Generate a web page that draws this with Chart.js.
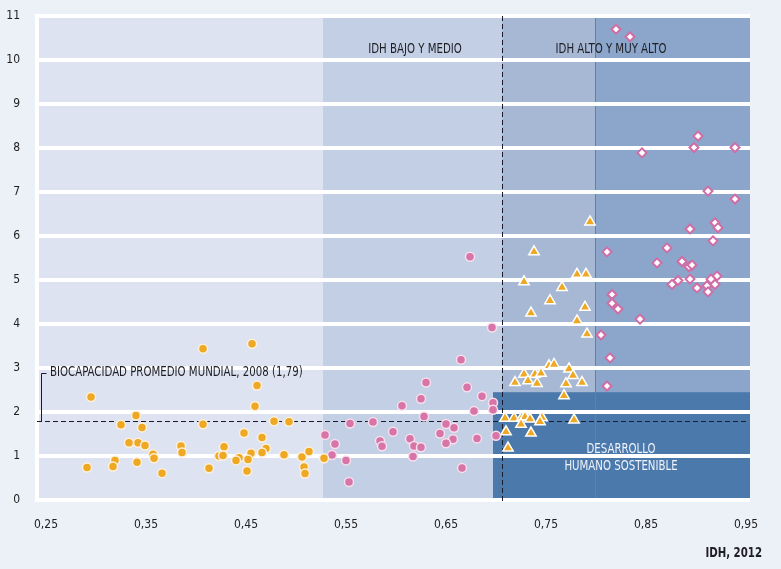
<!DOCTYPE html>
<html>
<head>
<meta charset="utf-8">
<script src="https://cdn.jsdelivr.net/npm/chart.js@4/dist/chart.umd.min.js"></script>
<style>
  html, body { margin: 0; padding: 0; background: #ecf0f7; }
  #wrap { width: 781px; height: 569px; }
</style>
</head>
<body>
<div id="wrap"><canvas id="grafico"></canvas></div>
<script>
// datos: IDH (x) y huella ecologica (y)
const bajoIdh = [0.407,0.456,0.295,0.461,0.459,0.340,0.325,0.346,0.407,0.478,0.493,0.448,0.466,0.333,0.342,0.349,0.385,0.386,0.428,0.470,0.466,0.455,0.357,0.358,0.423,0.427,0.443,0.440,0.452,0.319,0.317,0.291,0.341,0.366,0.413,0.451,0.488,0.506,0.513,0.508,0.509,0.528];
const bajoHuella = [3.44,3.55,2.34,2.60,2.13,1.92,1.71,1.65,1.72,1.79,1.78,1.52,1.42,1.30,1.30,1.24,1.23,1.08,1.21,1.17,1.08,1.06,1.04,0.95,1.00,1.01,0.96,0.90,0.92,0.90,0.76,0.74,0.86,0.61,0.72,0.66,1.03,0.98,1.10,0.75,0.60,0.95];

const medioIdh = [0.696,0.674,0.665,0.630,0.671,0.686,0.697,0.697,0.625,0.606,0.678,0.628,0.554,0.577,0.650,0.658,0.644,0.597,0.529,0.657,0.681,0.700,0.614,0.584,0.586,0.650,0.618,0.625,0.539,0.536,0.550,0.617,0.666,0.553];
const medioHuella = [3.92,5.53,3.19,2.67,2.56,2.36,2.21,2.05,2.30,2.14,2.02,1.90,1.74,1.77,1.73,1.64,1.51,1.55,1.48,1.38,1.40,1.46,1.39,1.34,1.22,1.29,1.23,1.20,1.27,1.02,0.90,0.99,0.73,0.41];

const altoIdh = [0.794,0.738,0.728,0.781,0.790,0.766,0.754,0.789,0.735,0.781,0.791,0.753,0.758,0.773,0.777,0.728,0.739,0.745,0.719,0.732,0.741,0.770,0.786,0.768,0.709,0.718,0.726,0.729,0.734,0.746,0.744,0.778,0.725,0.710,0.735,0.712];
const altoHuella = [6.32,5.64,4.96,5.13,5.13,4.83,4.53,4.38,4.25,4.07,3.77,3.05,3.08,2.98,2.83,2.86,2.86,2.88,2.67,2.71,2.65,2.64,2.67,2.37,1.86,1.86,1.88,1.89,1.84,1.87,1.78,1.82,1.72,1.55,1.52,1.18];

const muyAltoIdh = [0.820,0.834,0.902,0.898,0.939,0.846,0.912,0.939,0.919,0.922,0.894,0.917,0.811,0.871,0.861,0.886,0.893,0.896,0.921,0.915,0.894,0.882,0.876,0.901,0.911,0.919,0.912,0.816,0.816,0.822,0.844,0.805,0.814,0.811];
const muyAltoHuella = [10.70,10.53,8.27,8.01,8.01,7.89,7.02,6.84,6.30,6.19,6.16,5.89,5.64,5.73,5.39,5.42,5.30,5.34,5.09,5.02,5.02,4.99,4.90,4.82,4.87,4.90,4.73,4.67,4.47,4.34,4.11,3.75,3.23,2.59];

const xTicks = [0.25, 0.35, 0.45, 0.55, 0.65, 0.75, 0.85, 0.95];
const limitesIdh = [0.527, 0.706, 0.799];   // bajo/medio, medio/alto, alto/muy alto
const biocapacidad = 1.79;
const limiteSostenible = { idh: 0.697, huella: 2.45 };

const fuente = '"Liberation Sans Narrow", "DejaVu Sans Condensed", "Roboto", sans-serif';

const puntos = (xs, ys) => xs.map((v, i) => ({ x: v, y: ys[i] }));

// texto algo estrecho, como la tipografia condensada del original
function texto(ctx, s, px, py, align) {
    const k = 0.81;
    ctx.save();
    ctx.translate(px, py);
    ctx.scale(k, 1);
    ctx.textAlign = align;
    ctx.fillText(s, 0, 0);
    ctx.restore();
}

// fondos, lineas y textos
const fondoPlugin = {
    id: 'fondo',
    beforeDraw(chart) {
        const { ctx, chartArea: a, scales: { x, y } } = chart;
        const x1 = x.getPixelForValue(limitesIdh[0]);
        const x2 = x.getPixelForValue(limitesIdh[1]);
        const x3 = x.getPixelForValue(limitesIdh[2]);
        ctx.save();
        ctx.fillStyle = '#dde3f0';
        ctx.fillRect(a.left, a.top, x1 - a.left, a.bottom - a.top);
        ctx.fillStyle = '#c2cfe4';
        ctx.fillRect(x1, a.top, x2 - x1, a.bottom - a.top);
        ctx.fillStyle = '#a7b8d5';
        ctx.fillRect(x2, a.top, x3 - x2, a.bottom - a.top);
        ctx.fillStyle = '#8ba6ca';
        ctx.fillRect(x3, a.top, a.right - x3, a.bottom - a.top);
        // zona de desarrollo humano sostenible
        const rx = x.getPixelForValue(limiteSostenible.idh);
        const ry = y.getPixelForValue(limiteSostenible.huella);
        ctx.fillStyle = '#4b79ac';
        ctx.fillRect(rx, ry, a.right - rx, a.bottom - ry);
        // linea fina en 0,8
        ctx.strokeStyle = '#5f80ad';
        ctx.lineWidth = 1;
        ctx.beginPath();
        ctx.moveTo(Math.round(x3) + 0.5, a.top);
        ctx.lineTo(Math.round(x3) + 0.5, a.bottom);
        ctx.stroke();
        ctx.restore();
    },
    beforeDatasetsDraw(chart) {
        const { ctx, chartArea: a, scales: { x, y } } = chart;
        ctx.save();
        ctx.strokeStyle = '#1a1a2a';
        ctx.lineWidth = 1;
        ctx.setLineDash([5, 3]);
        const vx = Math.round(x.getPixelForValue(limitesIdh[1])) + 0.5;
        ctx.beginPath();
        ctx.moveTo(vx, a.top);
        ctx.lineTo(vx, a.bottom + 4);
        ctx.stroke();
        const hy = Math.round(y.getPixelForValue(biocapacidad)) + 0.5;
        ctx.beginPath();
        ctx.moveTo(a.left, hy);
        ctx.lineTo(a.right - 4, hy);
        ctx.stroke();
        // corchete de la etiqueta
        ctx.setLineDash([]);
        const bx = Math.round(x.getPixelForValue(0.245)) + 0.5;
        const by = Math.round(y.getPixelForValue(2.89)) + 0.5;
        ctx.beginPath();
        ctx.moveTo(bx + 5, by);
        ctx.lineTo(bx, by);
        ctx.lineTo(bx, hy);
        ctx.stroke();
        ctx.restore();
    },
    afterDatasetsDraw(chart) {
        const { ctx, scales: { x, y } } = chart;
        ctx.save();
        ctx.textBaseline = 'middle';
        ctx.font = '14px ' + fuente;
        ctx.fillStyle = '#1e1e24';
        texto(ctx, 'BIOCAPACIDAD PROMEDIO MUNDIAL, 2008 (1,79)', x.getPixelForValue(0.254), y.getPixelForValue(2.89), 'left');
        texto(ctx, 'IDH BAJO Y MEDIO', x.getPixelForValue(0.619), y.getPixelForValue(10.25), 'center');
        texto(ctx, 'IDH ALTO Y MUY ALTO', x.getPixelForValue(0.815), y.getPixelForValue(10.25), 'center');
        ctx.fillStyle = '#eef3fa';
        texto(ctx, 'DESARROLLO', x.getPixelForValue(0.825), y.getPixelForValue(1.16), 'center');
        texto(ctx, 'HUMANO SOSTENIBLE', x.getPixelForValue(0.825), y.getPixelForValue(0.77), 'center');
        ctx.fillStyle = '#1e1e24';
        ctx.font = 'bold 14px ' + fuente;
        texto(ctx, 'IDH, 2012', chart.width - 19, chart.height - 16, 'right');
        ctx.restore();
    }
};

new Chart(document.getElementById('grafico'), {
    type: 'scatter',
    data: {
        datasets: [
            {
                label: 'IDH bajo',
                data: puntos(bajoIdh, bajoHuella),
                pointStyle: 'circle',
                pointRadius: 4.5,
                backgroundColor: '#eea823',
                borderColor: '#fdf1dc',
                borderWidth: 1.5
            },
            {
                label: 'IDH medio',
                data: puntos(medioIdh, medioHuella),
                pointStyle: 'circle',
                pointRadius: 4.5,
                backgroundColor: '#d774a8',
                borderColor: '#f7dfeb',
                borderWidth: 1.5
            },
            {
                label: 'IDH alto',
                data: puntos(altoIdh, altoHuella),
                pointStyle: 'triangle',
                pointRadius: 6,
                backgroundColor: '#eea823',
                borderColor: '#ffffff',
                borderWidth: 1.5
            },
            {
                label: 'IDH muy alto',
                data: puntos(muyAltoIdh, muyAltoHuella),
                pointStyle: 'rectRot',
                pointRadius: 4.5,
                backgroundColor: '#ffffff',
                borderColor: '#d16ca6',
                borderWidth: 2
            }
        ]
    },
    options: {
        responsive: true,
        maintainAspectRatio: false,
        animation: false,
        layout: { padding: { top: 16, right: 31, left: 0, bottom: 0 } },
        plugins: {
            legend: { display: false },
            tooltip: { enabled: false }
        },
        scales: {
            x: {
                type: 'linear',
                min: 0.241,
                max: 0.954,
                afterBuildTicks: (axis) => { axis.ticks = xTicks.map(v => ({ value: v })); },
                afterFit: (axis) => { axis.height = 69; axis.paddingLeft = 0; axis.paddingRight = 0; },
                grid: { display: false, drawTicks: false },
                border: { display: false },
                ticks: {
                    padding: 18,
                    color: '#222',
                    font: { family: fuente, size: 12 },
                    maxRotation: 0,
                    callback: (v) => v.toFixed(2).replace('.', ',')
                }
            },
            y: {
                min: 0,
                max: 11,
                afterFit: (axis) => { axis.width = 37; axis.paddingTop = 0; axis.paddingBottom = 0; },
                grid: { color: '#ffffff', lineWidth: 4, drawTicks: false },
                border: { color: '#ffffff', width: 4 },
                ticks: {
                    stepSize: 1,
                    padding: 17,
                    color: '#222',
                    font: { family: fuente, size: 12 }
                }
            }
        }
    },
    plugins: [fondoPlugin]
});
</script>
</body>
</html>
